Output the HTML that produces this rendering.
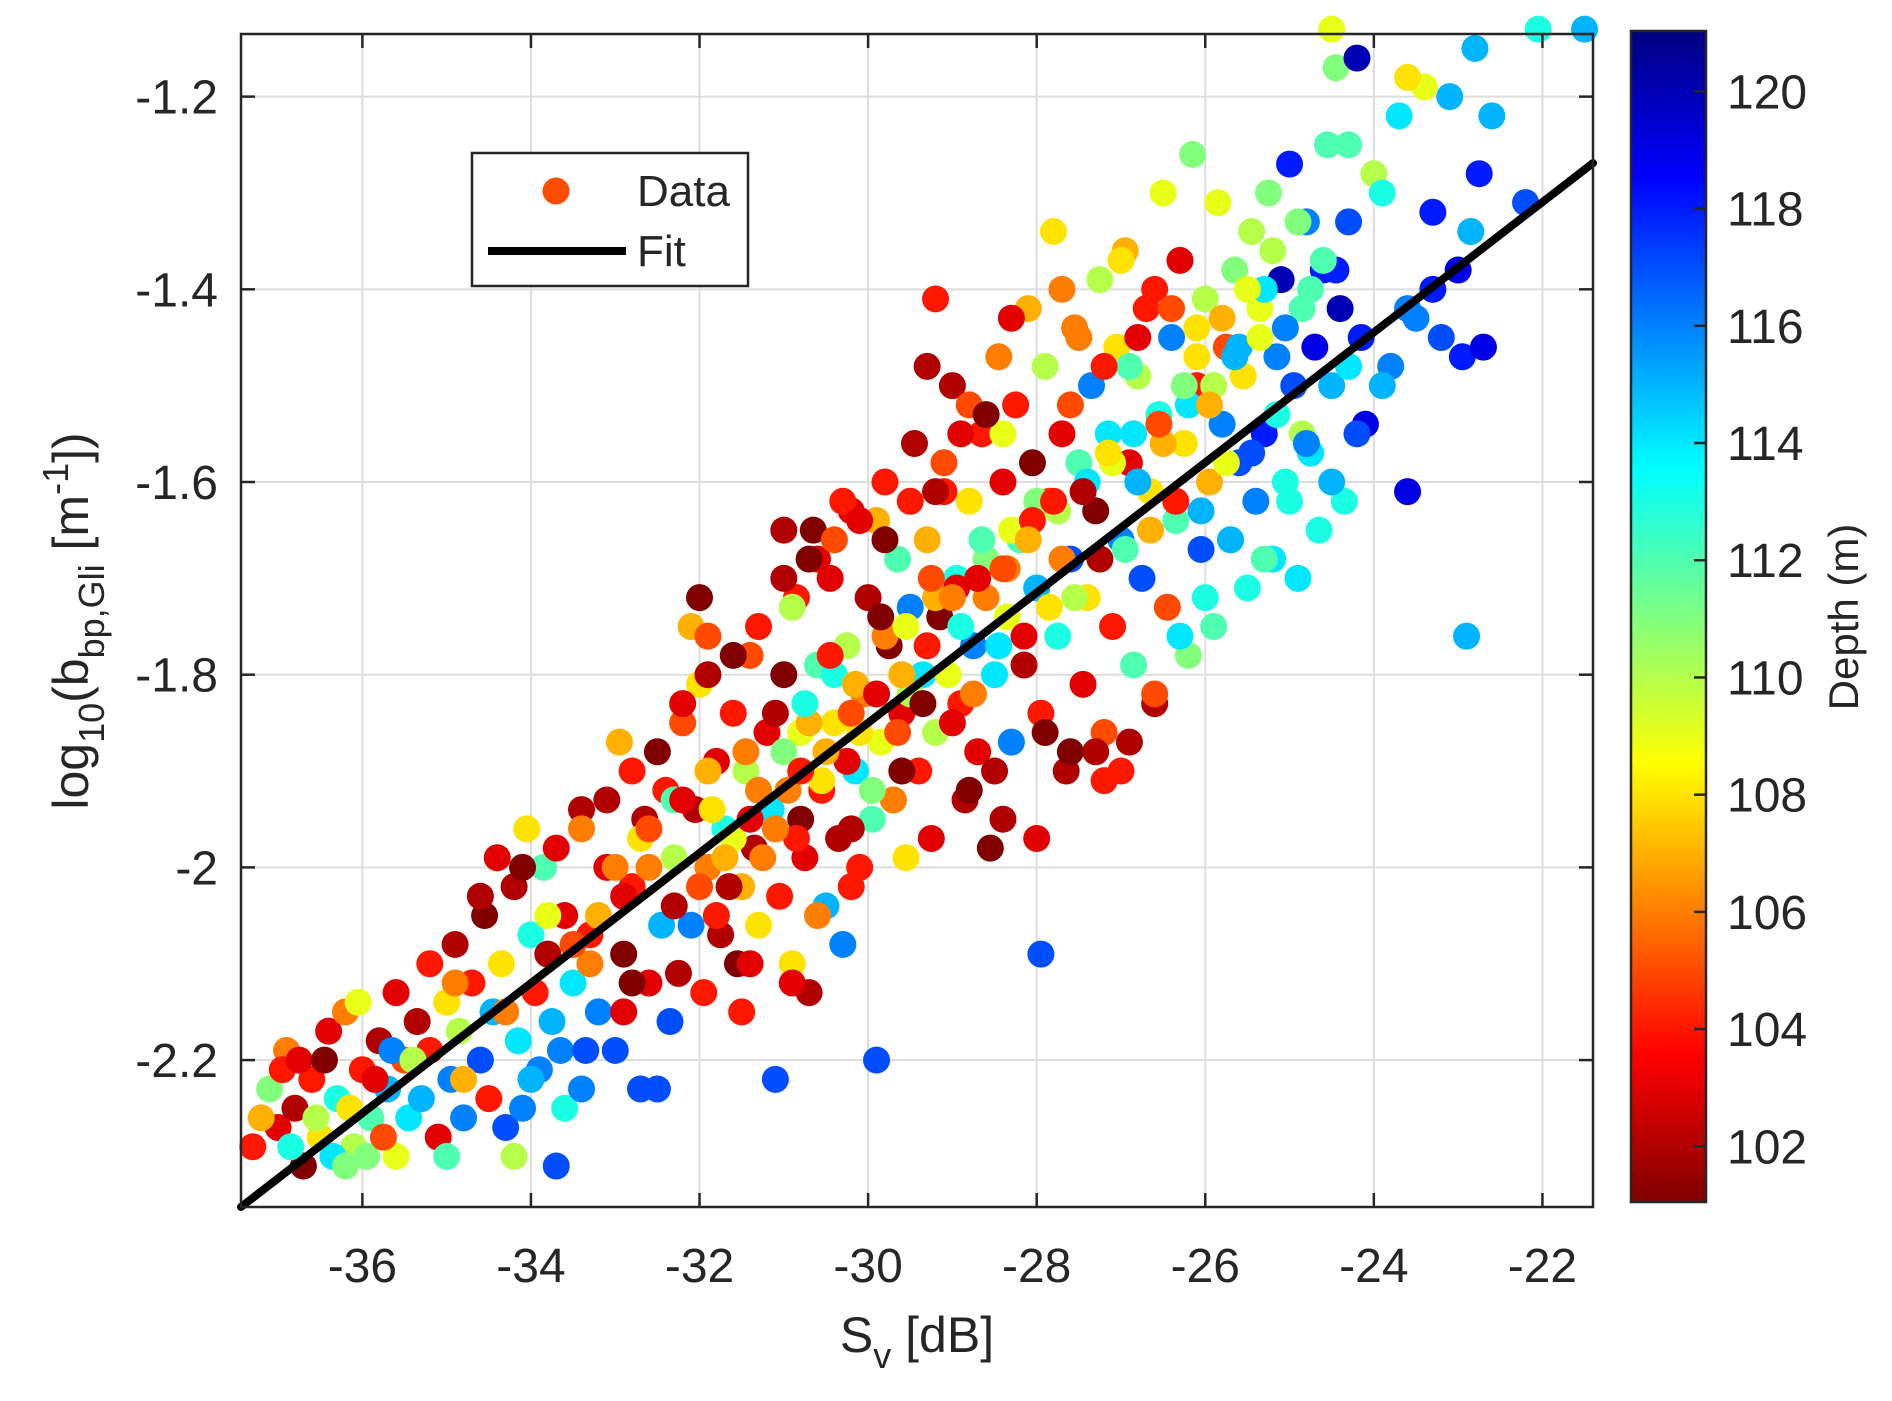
<!DOCTYPE html>
<html><head><meta charset="utf-8"><style>
html,body{margin:0;padding:0;background:#fff;}
svg{display:block;font-family:"Liberation Sans",Arial,sans-serif;}
</style></head><body>
<svg id="chart" width="1892" height="1401" viewBox="0 0 1892 1401" xmlns="http://www.w3.org/2000/svg">
<defs>
<linearGradient id="jet" x1="0" y1="1" x2="0" y2="0">
<stop offset="0" stop-color="#800000"/><stop offset="0.125" stop-color="#ff0000"/>
<stop offset="0.375" stop-color="#ffff00"/><stop offset="0.625" stop-color="#00ffff"/>
<stop offset="0.875" stop-color="#0000ff"/><stop offset="1" stop-color="#000080"/>
</linearGradient>
</defs>
<g id="grid"></g>
<g id="points"></g>
<g id="fit"></g>
<g id="axes"></g>
<g id="legend">
<rect x="472" y="153" width="276" height="133" fill="#fff" stroke="#262626" stroke-width="2.5"/>
<circle cx="556" cy="191" r="13.5" fill="#ff4d00"/>
<text x="637" y="206" font-size="44" fill="#262626">Data</text>
<line x1="488" y1="251" x2="626" y2="251" stroke="#000" stroke-width="8"/>
<text x="637" y="266" font-size="44" fill="#262626">Fit</text>
</g>
<g id="colorbar">
<rect x="1631" y="31" width="75" height="1171" fill="url(#jet)" stroke="#262626" stroke-width="2.5"/>
</g>
<text x="917" y="1352" font-size="50" text-anchor="middle" fill="#262626">S<tspan font-size="36" dy="16">v</tspan><tspan dy="-16"> [dB]</tspan></text>
<text transform="translate(88,621) rotate(-90)" font-size="50" text-anchor="middle" fill="#262626">log<tspan font-size="36" dy="16">10</tspan><tspan dy="-16">(b</tspan><tspan font-size="36" dy="16">bp,Gli</tspan><tspan dy="-16"> [m</tspan><tspan font-size="36" dy="-20">-1</tspan><tspan dy="20">])</tspan></text>
<text transform="translate(1858,617) rotate(-90)" font-size="42" text-anchor="middle" fill="#262626">Depth (m)</text>
</svg>
<script>
const xTicks = [-36,-34,-32,-30,-28,-26,-24,-22];
const yTicks = [-1.2,-1.4,-1.6,-1.8,-2,-2.2];
const cTicks = [102,104,106,108,110,112,114,116,118,120];
const fitX = [-37.44,-21.4];
const fitY = [-2.3525,-1.269];
const ptsX = [-37.3,-37.1,-37.0,-36.9,-36.8,-36.7,-36.6,-36.5,-36.4,-36.3,-36.2,-36.1,-36.0,-35.9,-35.8,-35.7,-35.6,-35.5,-37.2,-36.95,-36.85,-36.75,-36.55,-36.45,-36.35,-36.15,-36.05,-35.95,-35.85,-35.75,-35.65,-35.45,-35.35,-35.3,-35.2,-35.1,-35.0,-34.95,-34.9,-34.85,-34.8,-34.7,-34.6,-34.55,-34.5,-34.45,-34.4,-34.35,-34.3,-34.2,-34.15,-34.1,-34.05,-34.0,-33.95,-33.9,-33.85,-33.8,-33.75,-33.7,-33.65,-33.6,-33.5,-33.4,-33.35,-33.3,-33.2,-33.1,-33.0,-32.95,-32.9,-32.8,-32.7,-32.65,-32.6,-32.5,-32.45,-32.4,-32.35,-32.3,-32.25,-32.2,-32.1,-32.05,-32.0,-31.95,-31.9,-31.8,-31.75,-31.7,-31.6,-31.55,-31.5,-31.45,-31.4,-31.35,-31.3,-31.2,-31.15,-31.1,-31.05,-31.0,-30.95,-30.9,-30.85,-30.8,-30.75,-30.7,-30.65,-30.6,-30.55,-30.5,-30.45,-30.4,-30.35,-30.3,-30.25,-30.2,-30.15,-30.1,-30.05,-30.0,-29.95,-29.9,-29.85,-29.8,-29.75,-29.7,-29.65,-29.6,-29.55,-29.5,-29.45,-29.4,-29.35,-29.3,-29.25,-29.2,-29.15,-29.1,-29.0,-28.95,-28.9,-28.85,-28.8,-28.75,-28.7,-28.65,-28.6,-28.55,-28.5,-28.45,-28.4,-28.35,-28.3,-28.25,-28.2,-28.15,-28.1,-28.05,-28.0,-27.95,-27.95,-27.9,-27.85,-27.8,-27.75,-27.7,-27.65,-27.6,-27.55,-27.5,-27.45,-27.4,-27.35,-27.3,-27.25,-27.2,-27.15,-27.1,-27.05,-27.0,-26.95,-26.9,-26.85,-26.8,-26.75,-26.7,-26.65,-26.6,-26.55,-26.5,-26.45,-26.4,-26.35,-26.3,-26.25,-26.2,-26.15,-26.1,-26.05,-26.0,-25.95,-25.9,-25.85,-25.8,-25.75,-25.7,-25.65,-25.6,-25.55,-25.5,-25.45,-25.4,-25.35,-25.3,-25.25,-25.2,-25.15,-25.1,-25.05,-25.0,-24.95,-24.9,-24.85,-24.8,-24.75,-24.7,-24.65,-24.6,-24.55,-24.5,-24.45,-24.4,-24.35,-24.3,-24.2,-24.15,-24.1,-24.0,-23.9,-23.8,-23.7,-23.6,-23.5,-23.4,-23.3,-23.2,-23.1,-22.95,-22.9,-22.85,-22.8,-22.75,-22.7,-22.6,-22.2,-22.05,-21.5,-24.5,-23.6,-24.3,
-33.0,-32.7,-32.3,-31.9,-31.6,-31.3,-31.0,-30.7,-30.4,-30.1,-29.8,-29.5,-29.2,-28.9,-28.6,-28.3,-28.0,-27.7,-27.4,-27.1,-26.8,-26.5,-26.2,-25.9,-25.6,-31.8,-31.4,-30.8,-30.2,-29.6,-29.0,-28.5,-27.9,-27.3,-27.0,-32.8,-33.3,-33.8,-34.3,-34.8,-35.4,-32.0,-31.0,-30.3,-29.3,-28.8,-29.2,-28.3,-27.7,-27.0,-26.6,-32.1,-31.9,-30.9,-33.6,-34.2,-35.0,-36.2,
-32.6,-32.2,-31.85,-31.45,-31.1,-30.75,-30.45,-30.15,-29.85,-29.55,-29.25,-28.95,-28.65,-28.35,-28.05,-27.75,-27.45,-27.15,-26.85,-26.55,-26.25,-25.95,-25.65,-25.35,-25.05,-24.75,-24.45,-31.65,-31.25,-30.85,-30.55,-30.25,-29.95,-29.65,-29.35,-29.05,-28.75,-28.45,-28.15,-27.85,-27.55,-27.25,-26.95,-26.65,-26.35,-26.05,-25.75,-25.45,-25.15,-24.85,-30.6,-29.9,-29.1,-28.4,-27.6,-26.9,-26.1,-25.3,
-34.6,-34.1,-33.7,-33.4,-33.1,-32.8,-32.5,-32.2,-31.9,-31.6,
-31.3,-31.0,-30.7,-30.4,-30.1,-29.8,-29.5,-29.2,-28.9,-28.6,
-33.5,-33.2,-32.9,-32.6,-32.3,-32.0,-31.7,-31.4,-31.1,-30.8,
-30.5,-30.2,-29.9,-29.6,-29.3,-29.0,-28.7,-28.4,-28.1,-27.8,
-28.8,-28.4,-28.0,-27.6,-27.2,-26.9,-26.6,-26.3,-26.0,-25.7,
-34.9,-35.2,-35.6,-34.0,-33.4,-32.9,-31.5,-30.9,-30.6,-30.2,
-27.5,-27.2,-26.8,-26.4,-26.1,-25.8,-25.5,-25.2,-24.9,-24.6,
-24.8,-24.5,-24.2,-23.9,-23.6,-23.3,-23.0,-24.3,-25.0,-25.3];
const ptsY = [-2.29,-2.23,-2.27,-2.19,-2.25,-2.31,-2.22,-2.28,-2.17,-2.24,-2.15,-2.29,-2.21,-2.26,-2.18,-2.23,-2.3,-2.2,-2.26,-2.21,-2.29,-2.2,-2.26,-2.2,-2.3,-2.25,-2.14,-2.3,-2.22,-2.28,-2.19,-2.26,-2.16,-2.24,-2.19,-2.28,-2.14,-2.22,-2.08,-2.17,-2.26,-2.12,-2.2,-2.05,-2.24,-2.15,-1.99,-2.1,-2.27,-2.02,-2.18,-2.25,-1.96,-2.07,-2.13,-2.21,-2.0,-2.09,-2.16,-2.31,-2.19,-2.05,-2.12,-1.94,-2.19,-2.07,-2.15,-2.0,-2.19,-1.87,-2.09,-2.02,-2.23,-1.95,-2.12,-2.23,-2.06,-1.92,-2.16,-1.99,-2.11,-1.85,-2.06,-1.94,-1.81,-2.13,-2.0,-1.89,-2.07,-1.96,-1.84,-2.1,-2.02,-1.9,-1.78,-1.98,-2.06,-1.86,-1.94,-2.22,-2.03,-1.8,-1.92,-2.1,-1.72,-1.86,-1.99,-2.13,-1.65,-1.79,-1.92,-2.04,-1.7,-1.85,-1.97,-2.08,-1.77,-1.63,-1.9,-2.0,-1.82,-1.72,-1.95,-2.2,-1.87,-1.6,-1.77,-1.93,-1.68,-1.84,-1.99,-1.73,-1.56,-1.9,-1.8,-1.66,-1.97,-1.86,-1.74,-1.58,-1.5,-1.7,-1.83,-1.93,-1.62,-1.77,-1.88,-1.55,-1.68,-1.98,-1.8,-1.47,-1.6,-1.74,-1.87,-1.52,-1.66,-1.79,-1.42,-1.58,-1.71,-2.09,-1.84,-1.48,-1.62,-1.34,-1.76,-1.55,-1.9,-1.68,-1.44,-1.58,-1.81,-1.72,-1.5,-1.63,-1.39,-1.86,-1.55,-1.75,-1.46,-1.66,-1.36,-1.58,-1.79,-1.49,-1.7,-1.42,-1.61,-1.83,-1.53,-1.3,-1.73,-1.45,-1.64,-1.37,-1.56,-1.78,-1.26,-1.5,-1.67,-1.41,-1.6,-1.75,-1.31,-1.54,-1.46,-1.66,-1.38,-1.58,-1.49,-1.71,-1.34,-1.62,-1.42,-1.55,-1.3,-1.68,-1.47,-1.39,-1.6,-1.27,-1.5,-1.7,-1.42,-1.33,-1.57,-1.46,-1.65,-1.38,-1.25,-1.5,-1.17,-1.42,-1.62,-1.33,-1.16,-1.45,-1.54,-1.28,-1.3,-1.48,-1.22,-1.61,-1.43,-1.19,-1.32,-1.45,-1.2,-1.47,-1.76,-1.34,-1.15,-1.28,-1.46,-1.22,-1.31,-1.13,-1.13,-1.13,-1.18,-1.25,
-2.0,-1.97,-1.93,-1.9,-1.97,-1.92,-1.88,-1.85,-1.8,-1.86,-1.76,-1.82,-1.72,-1.75,-1.72,-1.65,-1.62,-1.68,-1.6,-1.58,-1.6,-1.56,-1.52,-1.5,-1.46,-2.05,-2.1,-1.95,-1.96,-1.9,-1.85,-1.9,-1.86,-1.88,-1.9,-2.12,-2.1,-2.05,-2.15,-2.22,-2.2,-1.72,-1.65,-1.62,-1.48,-1.52,-1.41,-1.43,-1.4,-1.37,-1.4,-1.75,-1.76,-1.73,-2.25,-2.3,-2.3,-2.31,
-1.96,-1.93,-1.94,-1.88,-1.84,-1.83,-1.78,-1.81,-1.74,-1.75,-1.7,-1.71,-1.66,-1.69,-1.64,-1.63,-1.61,-1.57,-1.55,-1.54,-1.5,-1.52,-1.47,-1.45,-1.44,-1.4,-1.38,-2.02,-1.99,-1.97,-1.91,-1.89,-1.92,-1.86,-1.83,-1.8,-1.82,-1.77,-1.76,-1.73,-1.72,-1.68,-1.67,-1.65,-1.62,-1.63,-1.58,-1.57,-1.53,-1.55,-1.68,-1.64,-1.61,-1.55,-1.52,-1.48,-1.44,-1.4,
-2.03,-2.0,-1.98,-1.96,-1.93,-1.9,-1.88,-1.83,-1.8,-1.78,
-1.75,-1.7,-1.68,-1.66,-1.64,-1.66,-1.62,-1.61,-1.55,-1.53,
-2.08,-2.05,-2.03,-2.0,-2.04,-2.02,-1.99,-1.95,-1.96,-1.9,
-1.88,-1.84,-1.82,-1.8,-1.77,-1.72,-1.7,-1.69,-1.66,-1.62,
-1.92,-1.95,-1.97,-1.88,-1.91,-1.87,-1.82,-1.76,-1.72,-1.66,
-2.12,-2.1,-2.13,-2.22,-2.23,-2.15,-2.15,-2.12,-2.05,-2.02,
-1.45,-1.48,-1.45,-1.42,-1.47,-1.43,-1.4,-1.36,-1.33,-1.37,
-1.56,-1.6,-1.55,-1.5,-1.42,-1.4,-1.38,-1.48,-1.62,-1.68];
const ptsDepth = [104,111,103,106,102,101,104,108,103,113,106,110,104,112,102,115,109,105,107,104,113,103,110,101,114,108,109,111,103,105,116,114,102,115,104,103,108,116,102,110,116,104,117,101,104,115,103,108,117,102,114,116,108,113,104,116,112,102,115,117,116,103,114,102,117,104,116,103,117,107,101,104,117,102,103,117,115,104,117,110,102,105,116,102,108,104,106,103,102,113,104,101,107,110,105,102,108,103,114,117,104,101,106,108,104,109,103,102,101,112,104,115,103,108,102,116,110,103,114,104,106,102,112,117,109,104,101,106,112,103,108,116,102,104,114,107,103,110,101,105,102,113,104,102,108,116,103,104,111,101,114,106,103,109,116,104,112,102,107,101,115,117,104,110,105,108,113,103,102,117,106,112,103,108,116,101,110,105,114,104,108,116,107,103,112,110,117,104,108,102,113,109,105,116,112,103,108,111,111,104,117,110,107,112,109,116,105,114,111,117,108,113,110,116,109,118,111,114,116,120,113,118,117,114,112,116,114,119,113,118,112,115,111,120,113,117,120,118,119,110,113,116,114,119,116,109,118,117,115,118,115,115,115,118,119,115,117,113,115,109,108,112,
106,108,112,107,109,106,111,107,113,108,106,110,107,113,106,109,111,106,114,109,115,107,114,110,115,104,103,101,102,101,103,102,101,102,104,101,106,109,106,107,110,101,102,104,102,105,104,103,106,108,104,107,105,110,113,110,112,111,
105,103,108,106,102,113,104,107,101,109,105,103,112,106,104,110,102,108,114,105,111,107,115,109,116,112,118,102,106,104,108,103,111,105,101,109,106,114,103,108,110,102,112,107,104,115,109,117,113,110,103,107,104,109,105,112,108,114,
102,101,103,106,102,104,101,103,102,101,
104,102,101,105,103,101,104,102,103,101,
105,107,103,106,102,105,107,103,106,104,
107,105,103,107,104,106,103,105,107,104,
101,102,103,101,104,102,105,114,113,115,
106,104,103,115,116,103,104,103,106,104,
106,104,103,105,108,107,109,110,111,112,
116,115,117,115,116,118,119,114,113,112];

const svgNS = "http://www.w3.org/2000/svg";
const L = 241, R = 1593, T = 34, B = 1207;
const X0 = -37.44, X1 = -21.4, Y0 = -2.3525, Y1 = -1.135;
const xs = v => L + (v - X0) / (X1 - X0) * (R - L);
const ys = v => B - (v - Y0) / (Y1 - Y0) * (B - T);
const CB_T = 31, CB_B = 1202, C0 = 101.05, C1 = 121.03;
const cs = v => CB_B - (v - C0) / (C1 - C0) * (CB_B - CB_T);
function mk(tag, attrs, parent){ const e = document.createElementNS(svgNS, tag); for (const k in attrs) e.setAttribute(k, attrs[k]); parent.appendChild(e); return e; }
function jet(d){
  // reversed jet: low depth = dark red, high depth = dark blue
  const t = 1 - Math.max(0, Math.min(1, (d - C0) / (C1 - C0)));
  const c = v => Math.round(255 * Math.max(0, Math.min(1, v)));
  return "rgb(" + c(1.5 - Math.abs(4*t - 3)) + "," + c(1.5 - Math.abs(4*t - 2)) + "," + c(1.5 - Math.abs(4*t - 1)) + ")";
}
const grid = document.getElementById('grid');
const axes = document.getElementById('axes');
xTicks.forEach(v => {
  const gl = mk('line', {x1: xs(v), x2: xs(v), y1: T, y2: B, stroke: '#dcdcdc', 'stroke-width': 2}, grid);
  
  
  mk('line', {x1: xs(v), x2: xs(v), y1: B, y2: B - 14, stroke: '#262626', 'stroke-width': 2.5}, axes);
  mk('line', {x1: xs(v), x2: xs(v), y1: T, y2: T + 14, stroke: '#262626', 'stroke-width': 2.5}, axes);
  const t = mk('text', {x: xs(v), y: 1282, 'font-size': 48, 'text-anchor': 'middle', fill: '#262626'}, axes);
  t.textContent = String(v);
  
  
});
yTicks.forEach(v => {
  const gl = mk('line', {x1: L, x2: R, y1: ys(v), y2: ys(v), stroke: '#dcdcdc', 'stroke-width': 2}, grid);
  
  
  mk('line', {x1: L, x2: L + 14, y1: ys(v), y2: ys(v), stroke: '#262626', 'stroke-width': 2.5}, axes);
  mk('line', {x1: R, x2: R - 14, y1: ys(v), y2: ys(v), stroke: '#262626', 'stroke-width': 2.5}, axes);
  const t = mk('text', {x: 218, y: ys(v) + 17, 'font-size': 48, 'text-anchor': 'end', fill: '#262626'}, axes);
  t.textContent = String(v);
  
  
});
const frame = mk('rect', {x: L, y: T, width: R - L, height: B - T, fill: 'none', stroke: '#262626', 'stroke-width': 2.5}, axes);


const pg = document.getElementById('points');
for (let i = 0; i < ptsX.length; i++) {
  const c = mk('circle', {cx: xs(ptsX[i]), cy: ys(ptsY[i]), r: 13.5, fill: jet(ptsDepth[i])}, pg);
  
  
}
const fl = mk('line', {x1: xs(fitX[0]), y1: ys(fitY[0]), x2: xs(fitX[1]), y2: ys(fitY[1]), stroke: '#000', 'stroke-width': 8, 'stroke-linecap': 'round'}, document.getElementById('fit'));


const cb = document.getElementById('colorbar');
cTicks.forEach(v => {
  mk('line', {x1: 1706, x2: 1694, y1: cs(v), y2: cs(v), stroke: '#262626', 'stroke-width': 2.5}, cb);
  const t = mk('text', {x: 1727, y: cs(v) + 17, 'font-size': 48, fill: '#262626'}, cb);
  t.textContent = String(v);
  
  
});
</script>
</body></html>
